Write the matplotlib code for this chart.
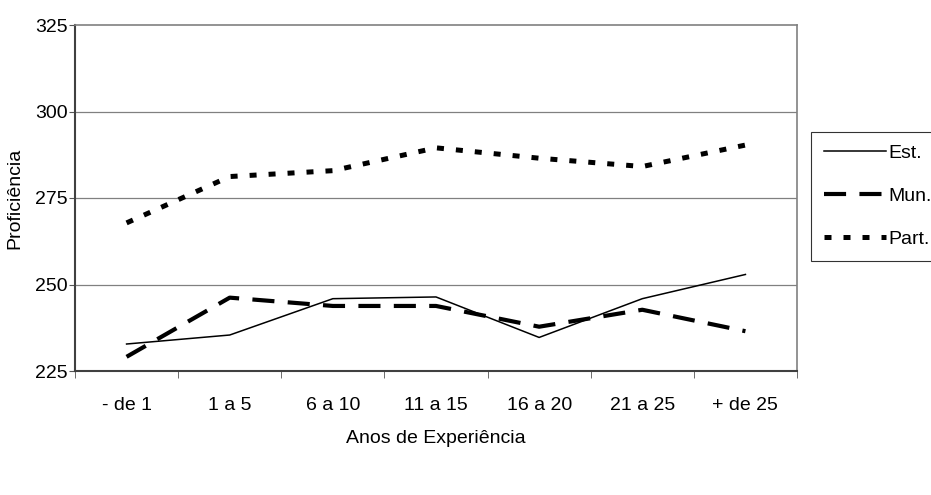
import matplotlib
matplotlib.use("Agg")
import matplotlib.pyplot as plt

plt.rcParams['font.family'] = ['Liberation Sans', 'DejaVu Sans']

categorias = ["- de 1", "1 a 5", "6 a 10", "11 a 15", "16 a 20", "21 a 25", "+ de 25"]
est = [232.8, 235.4, 245.9, 246.4, 234.7, 245.9, 252.9]
mun = [229.1, 246.2, 243.8, 243.8, 237.8, 242.7, 236.5]
part = [267.8, 281.2, 282.9, 289.5, 286.5, 284.1, 290.3]
yticks = [225, 250, 275, 300, 325]

fs = 14

fig = plt.figure(figsize=(9.31, 4.95), dpi=100)
ax = fig.add_axes([75 / 931, 1 - 371 / 495, (797 - 75) / 931, (371 - 25) / 495])

x = list(range(len(categorias)))
l1, = ax.plot(x, est, color='black', linewidth=1.1, linestyle='-', label='Est.')
l2, = ax.plot(x, mun, color='black', linewidth=3, linestyle=(0, (5.3, 3.2)), label='Mun.')
l3, = ax.plot(x, part, color='black', linewidth=3.6, linestyle=(0, (1.4, 2.4)), label='Part.')

ax.set_xlim(-0.5, len(categorias) - 0.5)
ax.set_ylim(225, 325)
ax.set_yticks(yticks)
ax.set_yticklabels([str(v) for v in yticks], fontsize=fs)
ax.set_xticks(x)
ax.set_xticklabels(categorias, fontsize=fs)
ax.tick_params(axis='x', which='major', length=0, pad=19)
ax.set_xticks([i - 0.5 for i in range(len(categorias) + 1)], minor=True)
ax.tick_params(axis='x', which='minor', length=5, direction='out', color='#555555')
ax.tick_params(axis='y', length=4, direction='out', color='#555555', pad=1)

for v in yticks[1:-1]:
    ax.axhline(v, color='#808080', linewidth=0.9, zorder=0)

for side in ['top', 'right']:
    ax.spines[side].set_color('#808080')
    ax.spines[side].set_linewidth(1.2)
for side in ['left', 'bottom']:
    ax.spines[side].set_color('#404040')
    ax.spines[side].set_linewidth(1.5)

ax.set_xlabel("Anos de Experiência", fontsize=fs, labelpad=11)
ax.set_ylabel("Proficiência", fontsize=fs, labelpad=9)

leg = fig.legend(handles=[l1, l2, l3], loc='upper left',
                 bbox_to_anchor=(811 / 931, 1 - 132 / 495), fontsize=fs,
                 frameon=True, fancybox=False, edgecolor='black',
                 handlelength=3.2, handletextpad=0.15, labelspacing=1.3,
                 borderpad=0.65, borderaxespad=0)
leg.get_frame().set_linewidth(0.8)

fig.savefig("out.png", dpi=100)
